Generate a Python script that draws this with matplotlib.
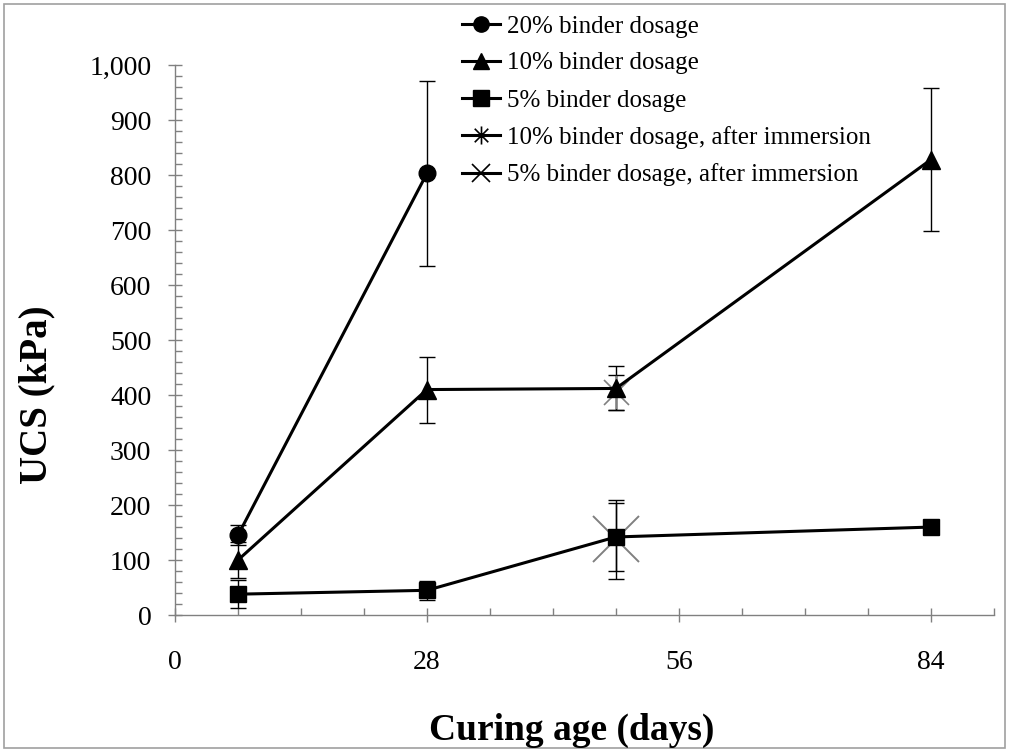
import matplotlib
matplotlib.use("Agg")
import matplotlib.pyplot as plt
from matplotlib.lines import Line2D
from matplotlib.patches import Rectangle
from matplotlib.path import Path
from matplotlib.ticker import MultipleLocator, FuncFormatter

plt.rcParams['font.family'] = ['Liberation Serif', 'DejaVu Serif']

# Curing ages (days) and UCS (kPa) with standard deviations
days_20 = [7, 28]
ucs_20 = [145, 803]
err_20 = [18, 168]

days_10 = [7, 28, 49, 84]
ucs_10 = [100, 410, 412, 828]
err_10 = [33, 60, 40, 130]

days_5 = [7, 28, 49, 84]
ucs_5 = [38, 45, 142, 160]
err_5 = [25, 17, 62, 0]

days_10_imm = [49]
ucs_10_imm = [405]
err_10_imm = [32]

days_5_imm = [49]
ucs_5_imm = [138]
err_5_imm = [72]

labels = ["20% binder dosage", "10% binder dosage", "5% binder dosage",
          "10% binder dosage, after immersion", "5% binder dosage, after immersion"]

# Star marker: a vertical stroke crossed by an X
star = Path([(0, -1), (0, 1), (-0.75, -0.75), (0.75, 0.75), (-0.75, 0.75), (0.75, -0.75)],
            [Path.MOVETO, Path.LINETO, Path.MOVETO, Path.LINETO, Path.MOVETO, Path.LINETO])

fig = plt.figure(figsize=(10.09, 7.51), dpi=100)
fig.patches.append(Rectangle((0.004, 0.004), 0.992, 0.991, transform=fig.transFigure,
                             fill=False, edgecolor='#a0a0a0', linewidth=1.2))
ax = fig.add_axes([0.1734, 0.181, 0.8116, 0.7324])

ebkw = dict(fmt='none', ecolor='black', elinewidth=1.0, capsize=6, capthick=1.0, zorder=2)
ax.errorbar(days_20, ucs_20, yerr=err_20, **ebkw)
ax.errorbar(days_10, ucs_10, yerr=err_10, **ebkw)
ax.errorbar(days_5, ucs_5, yerr=err_5, **ebkw)
ax.errorbar(days_10_imm, ucs_10_imm, yerr=err_10_imm, **ebkw)
ax.errorbar(days_5_imm, ucs_5_imm, yerr=err_5_imm, **ebkw)

ax.plot(days_10_imm, ucs_10_imm, linestyle='none', marker=star, markersize=24,
        markerfacecolor='none', markeredgecolor='#808080', markeredgewidth=1.2, zorder=3)
ax.plot(days_5_imm, ucs_5_imm, linestyle='none', marker='x', markersize=33,
        markeredgecolor='#808080', markeredgewidth=1.4, zorder=3)

ax.plot(days_20, ucs_20, color='black', lw=2.2, marker='o', markersize=12, zorder=4)
ax.plot(days_10, ucs_10, color='black', lw=2.2, marker='^', markersize=13, zorder=4)
ax.plot(days_5, ucs_5, color='black', lw=2.2, marker='s', markersize=12, zorder=4)

ax.set_xlim(0, 91)
ax.set_ylim(0, 1000)
ax.xaxis.set_major_locator(MultipleLocator(28))
ax.xaxis.set_minor_locator(MultipleLocator(7))
ax.yaxis.set_major_locator(MultipleLocator(100))
ax.yaxis.set_minor_locator(MultipleLocator(20))
ax.yaxis.set_major_formatter(FuncFormatter(lambda v, p: f"{int(v):,}"))

for side in ('top', 'right'):
    ax.spines[side].set_visible(False)
for side in ('left', 'bottom'):
    ax.spines[side].set_color('#808080')
    ax.spines[side].set_linewidth(1.0)

ax.tick_params(which='major', direction='inout', length=10, width=1.0, color='#808080',
               labelsize=20, labelcolor='black')
ax.tick_params(which='minor', direction='in', length=5, width=1.0, color='#808080')
ax.tick_params(axis='x', which='major', pad=20)
ax.tick_params(axis='y', which='major', pad=12)

fig.text(572 / 1009, 1 - 730 / 751, "Curing age (days)", fontsize=27, fontweight='bold',
         ha='center', va='center')
fig.text(37 / 1009, 1 - 395 / 751, "UCS (kPa)", fontsize=28, fontweight='bold',
         ha='center', va='center', rotation=90)

handles = [
    Line2D([], [], color='black', lw=2.2, marker='o', markersize=11),
    Line2D([], [], color='black', lw=2.2, marker='^', markersize=12),
    Line2D([], [], color='black', lw=2.2, marker='s', markersize=11),
    Line2D([], [], color='black', lw=2.2, marker=star, markersize=13,
           markerfacecolor='none', markeredgewidth=1.2),
    Line2D([], [], color='black', lw=2.2, marker='x', markersize=13, markeredgewidth=1.2),
]
leg = fig.legend(handles, labels, loc='upper left',
                 bbox_to_anchor=(452 / 1009, 1 - 5 / 751), bbox_transform=fig.transFigure,
                 frameon=False, fontsize=18, handlelength=1.5, handletextpad=0.3,
                 labelspacing=0.58, borderaxespad=0, borderpad=0.4)

fig.savefig("out.png", dpi=100)
